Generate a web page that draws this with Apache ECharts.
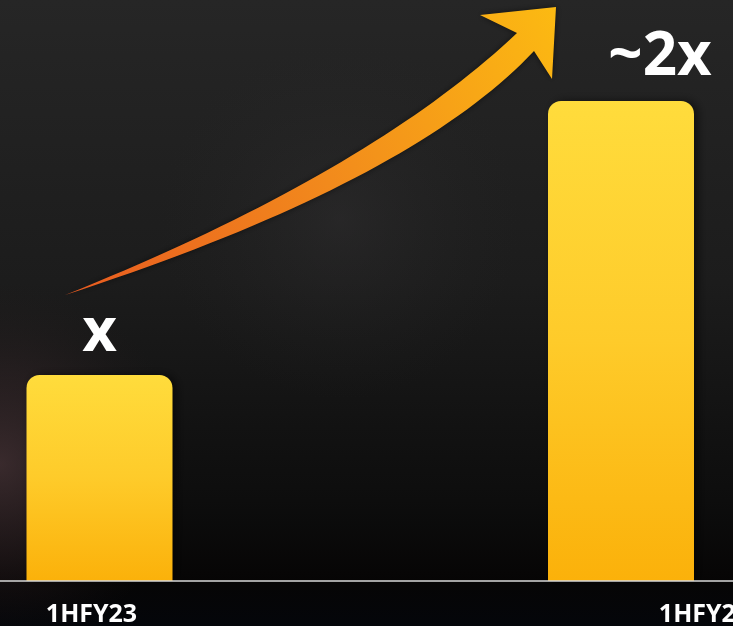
<!DOCTYPE html>
<html>
<head>
<meta charset="utf-8">
<script src="https://cdn.jsdelivr.net/npm/echarts@6/dist/echarts.min.js"></script>
<style>
html,body{margin:0;padding:0;background:#111;}
#c{width:733px;height:626px;}
</style>
</head>
<body>
<div id="c"></div>
<script>
// Data
const categories = ['1HFY23', '1HFY24'];
const values = [1, 2.33];
const valueLabels = ['x', '~2x'];

const chart = echarts.init(document.getElementById('c'), null, {renderer: 'canvas'});

const barGradient = new echarts.graphic.LinearGradient(0, 0, 0, 1, [
  {offset: 0, color: '#FFDC3C'},
  {offset: 0.5, color: '#FECB2A'},
  {offset: 1, color: '#FBB10A'}
]);

const labelOffsets = [[0, 0], [39, 0]];
const seriesData = values.map((v, i) => ({
  value: v,
  label: {formatter: valueLabels[i], offset: labelOffsets[i], distance: i === 0 ? 11 : 13}
}));

// decorative arrow outline (quadratic curves sampled)
function quad(p0, c, p1, n) {
  const pts = [];
  for (let k = 0; k <= n; k++) {
    const t = k / n, u = 1 - t;
    pts.push([u*u*p0[0] + 2*u*t*c[0] + t*t*p1[0], u*u*p0[1] + 2*u*t*c[1] + t*t*p1[1]]);
  }
  return pts;
}
const tail = [65, 295];
const upper = quad(tail, [369, 173], [517, 33], 40);
const lower = quad([534, 51], [410, 183], tail, 40);
const arrowPts = upper.concat([[480, 15], [556, 7], [552, 79]]).concat(lower.slice(0, -1));

const option = {
  backgroundColor: new echarts.graphic.LinearGradient(0, 0, 0, 1, [
    {offset: 0, color: '#262626'},
    {offset: 0.45, color: '#1c1c1c'},
    {offset: 0.8, color: '#0d0d0d'},
    {offset: 0.93, color: '#060505'},
    {offset: 1, color: '#04060a'}
  ]),
  animation: false,
  graphic: [
    {
      type: 'rect', z: -10, silent: true,
      shape: {x: 0, y: 200, width: 230, height: 426},
      style: {fill: new echarts.graphic.RadialGradient(0.0, 0.62, 0.8, [
        {offset: 0, color: 'rgba(85,60,64,0.6)'},
        {offset: 0.5, color: 'rgba(70,48,52,0.3)'},
        {offset: 1, color: 'rgba(40,30,30,0)'}
      ])}
    },
    {
      type: 'rect', z: -10, silent: true,
      shape: {x: 150, y: 40, width: 380, height: 360},
      style: {fill: new echarts.graphic.RadialGradient(0.5, 0.5, 0.5, [
        {offset: 0, color: 'rgba(60,58,60,0.3)'},
        {offset: 1, color: 'rgba(40,40,40,0)'}
      ])}
    },
    {
      type: 'line', z: 5, silent: true,
      shape: {x1: 0, y1: 581, x2: 733, y2: 581},
      style: {stroke: '#d8d8d8', lineWidth: 1.5}
    },
    {
      type: 'polygon', z: 10, silent: true,
      shape: {points: arrowPts},
      style: {
        fill: new echarts.graphic.LinearGradient(0, 1, 1, 0, [
          {offset: 0, color: '#E85A20'},
          {offset: 0.5, color: '#F28A1C'},
          {offset: 1, color: '#FCBA12'}
        ]),
        shadowBlur: 6, shadowColor: 'rgba(0,0,0,0.5)'
      }
    }
  ],
  grid: {
    left: -161.25, right: -148.75, top: 66, bottom: 45,
    outerBoundsMode: 'none', containLabel: false
  },
  xAxis: {
    type: 'category',
    data: categories,
    boundaryGap: true,
    axisLine: {show: false},
    axisTick: {show: false},
    splitLine: {show: false},
    axisLabel: {
      interval: 0,
      margin: 21,
      formatter: (v, i) => i === 1 ? '{b|' + v + '}' : '{a|' + v + '}',
      rich: {
        a: {color: '#ffffff', fontFamily: 'Open Sans', fontWeight: 'bold', fontSize: 25, padding: [0, 16, 0, 0]},
        b: {color: '#ffffff', fontFamily: 'Open Sans', fontWeight: 'bold', fontSize: 25, padding: [0, 0, 0, 167]}
      }
    }
  },
  yAxis: {
    type: 'value', min: 0, max: 2.5, show: false,
    splitLine: {show: false}
  },
  series: [{
    type: 'bar',
    data: seriesData,
    barWidth: 146,
    itemStyle: {
      color: barGradient,
      borderRadius: [13, 13, 0, 0],
      shadowBlur: 10, shadowColor: 'rgba(0,0,0,0.55)', shadowOffsetX: 4
    },
    label: {
      show: true,
      position: 'top',
      color: '#ffffff',
      fontFamily: 'Open Sans',
      fontWeight: 'bold',
      fontSize: 60
    }
  }]
};
chart.setOption(option);
</script>
</body>
</html>
